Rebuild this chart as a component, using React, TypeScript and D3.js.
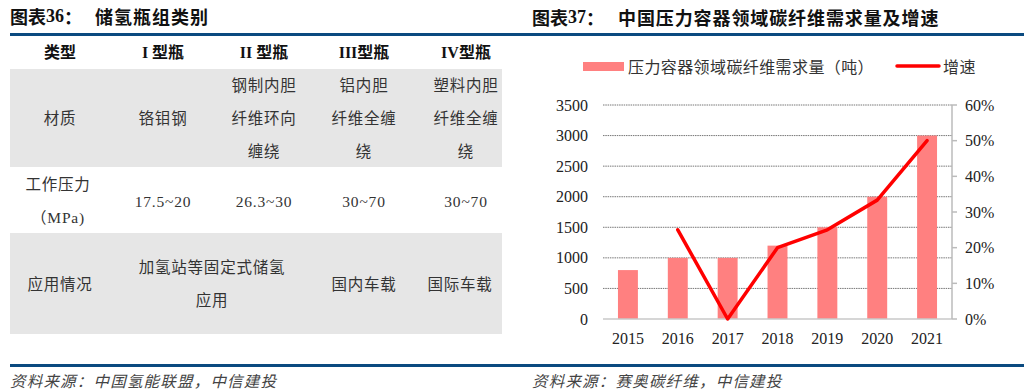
import * as d3 from 'd3';
import * as React from 'react';

const W = 1024;
const H = 392;

// left table data
const tableHeaders = ['类型', 'I 型瓶', 'II 型瓶', 'III型瓶', 'IV型瓶'];
const materialRow = ['材质', '铬钼钢', '钢制内胆|纤维环向|缠绕', '铝内胆|纤维全缠|绕', '塑料内胆|纤维全缠|绕'];
const pressureRow = ['工作压力|（MPa)', '17.5~20', '26.3~30', '30~70', '30~70'];
const usageRow = ['应用情况', '加氢站等固定式储氢|应用', '国内车载', '国际车载'];

// right chart data
const years = ['2015', '2016', '2017', '2018', '2019', '2020', '2021'];
const demand = [800, 1000, 1000, 1200, 1500, 2000, 3000];
const growth = [null, 0.25, 0, 0.2, 0.25, 0.3333, 0.5];
const leftTicks = [0, 500, 1000, 1500, 2000, 2500, 3000, 3500];
const rightTicks = [0, 0.1, 0.2, 0.3, 0.4, 0.5, 0.6];

const serif = '"Liberation Serif", "Noto Sans CJK SC", serif';
const blue = '#0b4a80';

const plot = { left: 603, right: 952, top: 105, bottom: 319 };

const Cell = ({ x, y, text, bold = false, gap = 33 }: { x: number; y: number; text: string; bold?: boolean; gap?: number }) => {
  const lines = text.split('|');
  const y0 = y - ((lines.length - 1) * gap) / 2;
  return (
    <text
      x={x}
      textAnchor="middle"
      fontFamily={serif}
      fontSize={bold ? 16 : 15.5}
      fontWeight={bold ? 'bold' : 'normal'}
      fill={bold ? '#111' : '#333'}
      letterSpacing={bold ? 0 : 0.8}
    >
      {lines.map((l, i) => (
        <tspan key={i} x={x} y={y0 + i * gap} dominantBaseline="central">
          {l}
        </tspan>
      ))}
    </text>
  );
};

const Table = () => {
  const colX = [60, 163, 264, 364, 466];
  return (
    <g>
      <text x={10} y={16} dominantBaseline="central" fontFamily={serif} fontSize={18} fontWeight="bold" fill="#111">
        <tspan fontFamily='"Noto Sans CJK SC"'>图表</tspan>
        <tspan>36</tspan>
        <tspan fontFamily='"Noto Sans CJK SC"'>：</tspan>
        <tspan x={95} fontFamily='"Noto Sans CJK SC"' letterSpacing={1}>储氢瓶组类别</tspan>
      </text>
      <rect x={10} y={33} width={502} height={3} fill={blue} />
      {tableHeaders.map((h, i) => (
        <Cell key={h} x={colX[i]} y={52} text={h} bold />
      ))}
      <rect x={10} y={69} width={492} height={98} fill="#e6e6e6" />
      {materialRow.map((t, i) => (
        <Cell key={i} x={colX[i]} y={118} text={t} />
      ))}
      {pressureRow.map((t, i) => (
        <Cell key={i} x={i === 0 ? 58 : colX[i]} y={201} text={t} />
      ))}
      <rect x={10} y={233} width={492} height={101} fill="#e6e6e6" />
      {usageRow.map((t, i) => (
        <Cell key={i} x={[60, 212, 364, 460][i]} y={284} text={t} />
      ))}
      <rect x={10} y={364} width={502} height={3} fill={blue} />
      <text x={10} y={380} dominantBaseline="central" fontFamily='"Noto Sans CJK SC"' fontSize={15.5} fontStyle="italic" fill="#444" letterSpacing={1.2}>
        资料来源：中国氢能联盟，中信建投
      </text>
    </g>
  );
};

const Chart = () => {
  const x = d3.scaleBand<string>().domain(years).range([plot.left, plot.right]).paddingInner(0.6).paddingOuter(0.3);
  const yL = d3.scaleLinear().domain([0, 3500]).range([plot.bottom, plot.top]);
  const yR = d3.scaleLinear().domain([0, 0.6]).range([plot.bottom, plot.top]);

  const line = d3
    .line<number | null>()
    .defined(d => d !== null)
    .x((d, i) => (x(years[i]) as number) + x.bandwidth() / 2)
    .y(d => yR(d as number));

  return (
    <g>
      <text x={532} y={17} dominantBaseline="central" fontFamily={serif} fontSize={18} fontWeight="bold" fill="#111">
        <tspan fontFamily='"Noto Sans CJK SC"'>图表</tspan>
        <tspan>37</tspan>
        <tspan fontFamily='"Noto Sans CJK SC"'>：</tspan>
        <tspan x={618} fontFamily='"Noto Sans CJK SC"' letterSpacing={0.9}>中国压力容器领域碳纤维需求量及增速</tspan>
      </text>
      <rect x={512} y={33} width={512} height={3} fill={blue} />

      {/* legend */}
      <rect x={583} y={62} width={41} height={9} fill="#ff8080" />
      <text x={628} y={67} dominantBaseline="central" fontFamily={serif} fontSize={16} fill="#333" letterSpacing={0.4}>
        压力容器领域碳纤维需求量（吨）
      </text>
      <line x1={897} x2={939} y1={66} y2={66} stroke="#ff0000" strokeWidth={3.5} strokeLinecap="round" />
      <text x={943} y={67} dominantBaseline="central" fontFamily={serif} fontSize={16} fill="#333" letterSpacing={0.4}>
        增速
      </text>

      {/* grid */}
      {leftTicks.filter(t => t > 0).map(t => (
        <line key={t} x1={plot.left} x2={plot.right} y1={yL(t)} y2={yL(t)} stroke="#777" strokeWidth={1} strokeDasharray="1.5 0.8" />
      ))}
      {leftTicks.map(t => (
        <text key={t} x={588} y={yL(t)} textAnchor="end" dominantBaseline="central" fontFamily={serif} fontSize={16} fill="#222">
          {t}
        </text>
      ))}

      {/* bars */}
      {demand.map((v, i) => (
        <rect key={years[i]} x={x(years[i])} y={yL(v)} width={x.bandwidth()} height={yL(0) - yL(v)} fill="#ff8080" />
      ))}
      <line x1={plot.left} x2={plot.right} y1={yL(0)} y2={yL(0)} stroke="#c8c8c8" strokeWidth={1.5} />

      {/* right axis */}
      <line x1={plot.right} x2={plot.right} y1={plot.top} y2={plot.bottom} stroke="#bbb" strokeWidth={1.5} />
      {rightTicks.map(t => (
        <g key={t}>
          <line x1={plot.right} x2={plot.right + 5} y1={yR(t)} y2={yR(t)} stroke="#bbb" strokeWidth={1.5} />
          <text x={965} y={yR(t)} dominantBaseline="central" fontFamily={serif} fontSize={16} fill="#222">
            {d3.format('.0%')(t)}
          </text>
        </g>
      ))}

      {/* x labels */}
      {years.map(yr => (
        <text key={yr} x={(x(yr) as number) + x.bandwidth() / 2} y={338} textAnchor="middle" dominantBaseline="central" fontFamily={serif} fontSize={16} fill="#222">
          {yr}
        </text>
      ))}

      <path d={line(growth) || ''} fill="none" stroke="#ff0000" strokeWidth={3.5} strokeLinejoin="round" strokeLinecap="round" />

      <rect x={512} y={364} width={512} height={3} fill={blue} />
      <text x={532} y={380} dominantBaseline="central" fontFamily='"Noto Sans CJK SC"' fontSize={15.5} fontStyle="italic" fill="#444" letterSpacing={1.2}>
        资料来源：赛奥碳纤维，中信建投
      </text>
    </g>
  );
};

export default function App() {
  return (
    <svg width={W} height={H} style={{ position: 'absolute', left: 0, top: 0, background: '#fff' }}>
      <Table />
      <Chart />
    </svg>
  );
}
